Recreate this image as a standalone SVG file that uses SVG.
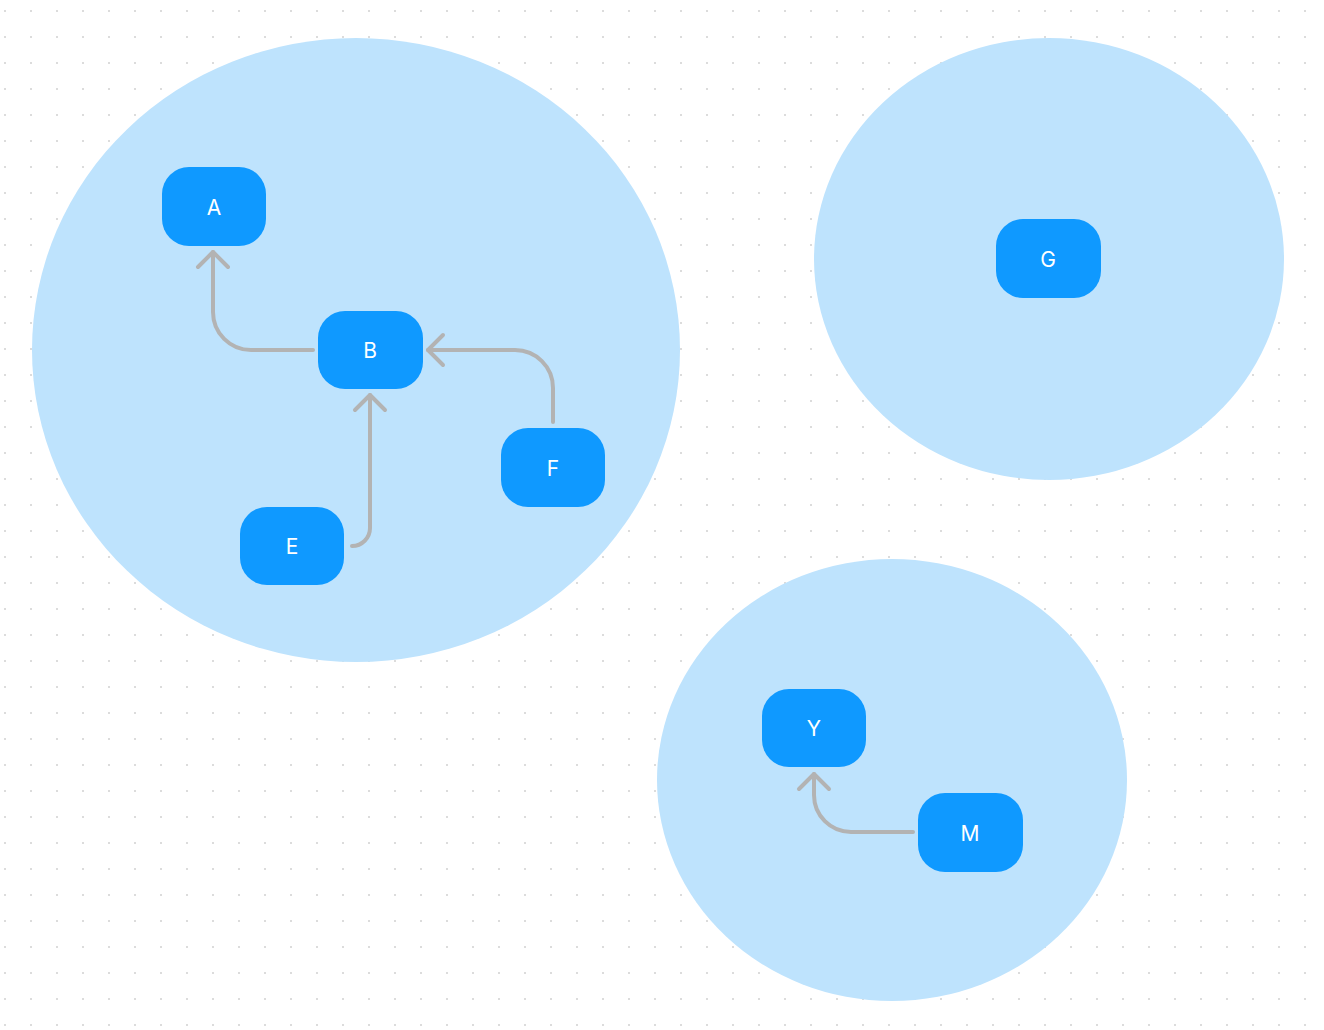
<svg xmlns="http://www.w3.org/2000/svg" width="1324" height="1030" viewBox="0 0 1324 1030">
  <defs>
    <pattern id="dots" x="0" y="0" width="26" height="26" patternUnits="userSpaceOnUse">
      <rect x="4" y="10" width="2" height="2" fill="#dcdcdc"/>
    </pattern>
    <marker id="arrow" markerUnits="userSpaceOnUse" viewBox="-20 -20 24 40" refX="0" refY="0" markerWidth="24" markerHeight="40" orient="auto">
      <path d="M -15 -15 L 0 0 L -15 15" fill="none" stroke="#b3b3b3" stroke-width="4" stroke-linecap="round" stroke-linejoin="round"/>
    </marker>
  </defs>
  <style>
    .group { fill: #bee3fd; }
    .node rect { fill: #0f99ff; }
    .node text { fill: #ffffff; font-family: Inter, "Liberation Sans", sans-serif; font-size: 21px; text-anchor: middle; dominant-baseline: central; }
    .edge { fill: none; stroke: #b3b3b3; stroke-width: 4; stroke-linecap: round; marker-end: url(#arrow); }
  </style>
  <rect width="1324" height="1030" fill="#ffffff"/>
  <rect width="1324" height="1030" fill="url(#dots)"/>

  <g id="groups">
    <ellipse id="group1" class="group" cx="356" cy="350" rx="324" ry="312"/>
    <ellipse id="group2" class="group" cx="1049" cy="259" rx="235" ry="221"/>
    <ellipse id="group3" class="group" cx="892" cy="780" rx="235" ry="221"/>
  </g>

  <g id="connectors">
    <path class="edge" d="M 313 350 L 251 350 A 38 38 0 0 1 213 312 L 213 252"/>
    <path class="edge" d="M 553 422 L 553 388 A 38 38 0 0 0 515 350 L 428 350"/>
    <path class="edge" d="M 352 546 A 18 18 0 0 0 370 528 L 370 395"/>
    <path class="edge" d="M 913 832 L 851 832 A 37 37 0 0 1 814 795 L 814 774"/>
  </g>

  <g id="node-A" class="node"><rect x="162" y="167" width="104" height="79" rx="27"/><text x="214" y="207">A</text></g>
  <g id="node-B" class="node"><rect x="318" y="311" width="105" height="78" rx="27"/><text x="370" y="350">B</text></g>
  <g id="node-E" class="node"><rect x="240" y="507" width="104" height="78" rx="27"/><text x="292" y="546">E</text></g>
  <g id="node-F" class="node"><rect x="501" y="428" width="104" height="79" rx="27"/><text x="553" y="468">F</text></g>
  <g id="node-G" class="node"><rect x="996" y="219" width="105" height="79" rx="27"/><text x="1048" y="259">G</text></g>
  <g id="node-Y" class="node"><rect x="762" y="689" width="104" height="78" rx="27"/><text x="814" y="728">Y</text></g>
  <g id="node-M" class="node"><rect x="918" y="793" width="105" height="79" rx="27"/><text x="970" y="833">M</text></g>
</svg>
